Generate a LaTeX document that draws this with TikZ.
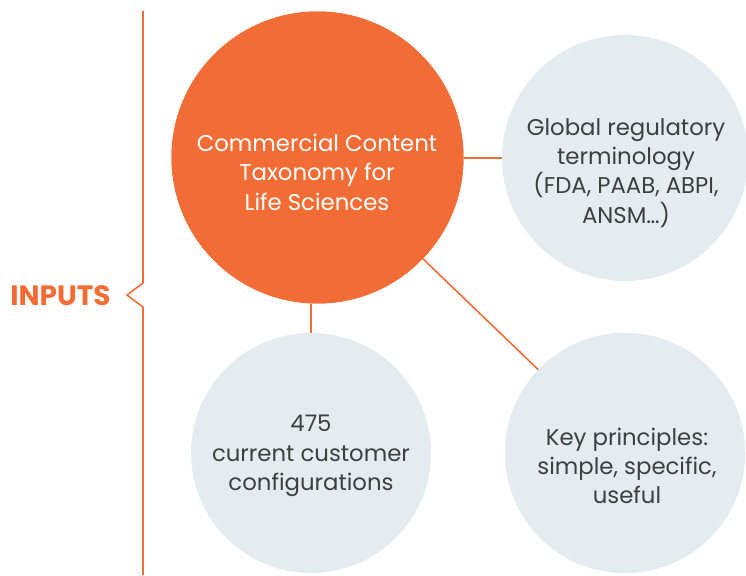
\documentclass[tikz,border=0pt]{standalone}
\usepackage{fontspec}
\setmainfont{Poppins}
\definecolor{brandorange}{HTML}{F26D36}
\definecolor{bubblegrey}{HTML}{E5ECF0}
\definecolor{textgrey}{HTML}{3F3F3F}
\tikzset{
  mainbubble/.style={circle, fill=brandorange, inner sep=0pt, minimum size=292pt},
  inbubble/.style={circle, fill=bubblegrey, inner sep=0pt},
  orangetext/.style={text=white, align=center, font=\fontsize{22.8}{29.5}\selectfont},
  greytext/.style={text=textgrey, align=center, font=\fontsize{22.8}{29.3}\selectfont},
  link/.style={draw=brandorange, line width=1.6pt},
}
\begin{document}
\begin{tikzpicture}[x=1pt,y=-1pt]
\useasboundingbox (0,0) rectangle (746,575);
% circles
\node[inbubble, minimum size=246pt] (reg) at (625,158) {};
\node[inbubble, minimum size=240pt] (cfg) at (311,453) {};
\node[inbubble, minimum size=240pt] (key) at (625,453) {};
\node[mainbubble] (main) at (317.5,157.5) {};
% connectors
\draw[link] (main.east |- reg.west) -- (reg.west);
\draw[link] (cfg.north) -- (cfg.north |- main.south);
\draw[link] (main) -- (key);
\node[mainbubble] at (main) {};
\node[inbubble, minimum size=240pt] at (key) {};
% texts
\node[orangetext] (maintext) at (317,172) {Commercial Content\\Taxonomy for\\Life Sciences};
\node[greytext] (regtext) at (626,173) {Global regulatory\\terminology\\(FDA, PAAB, ABPI,\\ANSM…)};
\node[greytext] (cfgtext) at (311,456) {475\\current customer\\configurations};
\node[greytext] (keytext) at (627,466) {Key principles:\\simple, specific,\\useful};
% bracket
\coordinate (btop) at (143,11);
\coordinate (bnotchA) at (143,283);
\coordinate (btip) at (127,295);
\coordinate (bnotchB) at (143,307);
\coordinate (bbot) at (143,575);
\draw[brandorange, line width=1.6pt, line join=miter] (btop) -- (bnotchA) -- (btip) -- (bnotchB) -- (bbot);
\node[text=brandorange, font=\fontsize{28}{30}\selectfont\bfseries] (inputs) at (60.5,296) {INPUTS};
\end{tikzpicture}
\end{document}
